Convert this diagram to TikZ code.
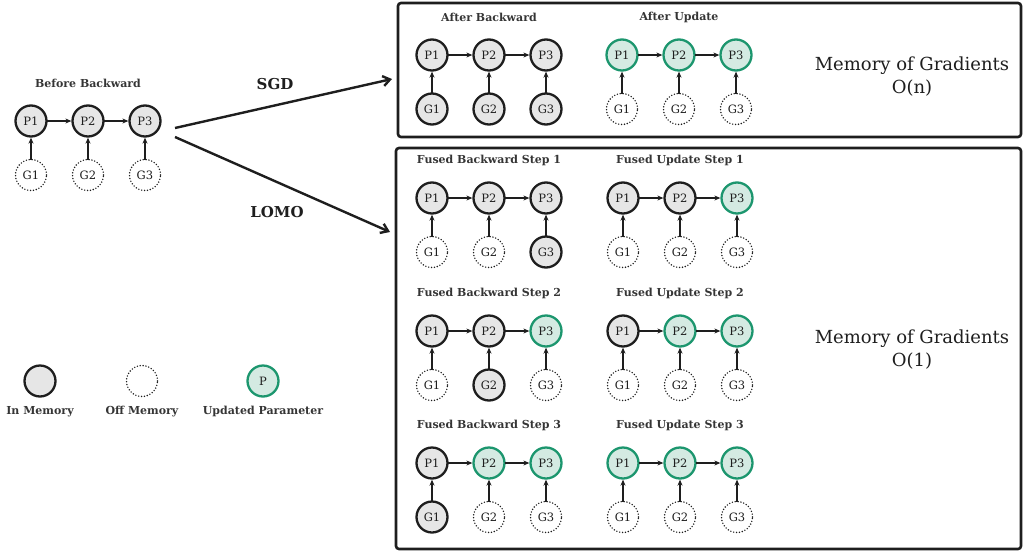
\documentclass[tikz,border=0pt]{standalone}
\usepackage{fontspec}
\setmainfont{DejaVu Serif}
\usepackage{xcolor}
\usepackage{tikz}
\usetikzlibrary{positioning,arrows.meta}
\definecolor{memfill}{RGB}{230,230,230}
\definecolor{updline}{RGB}{28,150,110}
\definecolor{updfill}{RGB}{212,234,226}
\definecolor{ink}{RGB}{30,30,30}
% one chain of parameters with their gradients below
% #1 prefix, #2 position of P1, #3 title, #4-#6 styles of P1-P3, #7-#9 styles of G1-G3
\newcommand{\chain}[9]{%
	\begin{scope}[on grid]
		\node[#4] (#1p1) at #2 {P1};
		\node[#5, right=57pt of #1p1] (#1p2) {P2};
		\node[#6, right=57pt of #1p2] (#1p3) {P3};
		\node[#7, below=54pt of #1p1] (#1g1) {G1};
		\node[#8, below=54pt of #1p2] (#1g2) {G2};
		\node[#9, below=54pt of #1p3] (#1g3) {G3};
		\node[steptitle, above=38pt of #1p2] (#1t) {#3};
	\end{scope}
	\draw[link] (#1p1) -- (#1p2);
	\draw[link] (#1p2) -- (#1p3);
	\draw[link] (#1g1) -- (#1p1);
	\draw[link] (#1g2) -- (#1p2);
	\draw[link] (#1g3) -- (#1p3);}

\begin{document}
\begin{tikzpicture}[x=1pt, y=-1pt,
		param/.style={circle, minimum size=31pt, inner sep=0pt, font=\fontsize{11.5}{12}\selectfont, text=ink},
		inmem/.style={param, draw=ink, line width=2.3pt, fill=memfill},
		offmem/.style={param, draw=ink, line width=1.6pt, line cap=round, dash pattern=on 0pt off 2.9pt, fill=white},
		upd/.style={param, draw=updline, line width=2.3pt, fill=updfill},
		link/.style={-{Stealth[length=6pt, width=5pt]}, line width=1.4pt, ink, shorten <=-1pt},
		steptitle/.style={font=\bfseries\fontsize{11}{12}\selectfont, text=ink!90},
		legtext/.style={font=\bfseries\fontsize{11}{12}\selectfont, text=ink!90},
		panelbox/.style={draw=ink, line width=2.6pt, rounded corners=3pt, inner sep=0pt},
		flow/.style={-{Straight Barb[length=7pt, width=10pt]}, line width=2.4pt, ink},
		flowlabel/.style={font=\bfseries\fontsize{15}{17}\selectfont, text=ink},
		memnote/.style={font=\fontsize{18}{23}\selectfont, align=center, text=ink}]
	\useasboundingbox (0,0) rectangle (1026,552);

	% starting state
	\chain{bf}{(31,121)}{Before Backward}{inmem}{inmem}{inmem}{offmem}{offmem}{offmem}

	% SGD
	\node[panelbox, minimum width=623, minimum height=134] (sgdbox) at (709.5,70) {};
	\chain{ab}{(432,55)}{After Backward}{inmem}{inmem}{inmem}{inmem}{inmem}{inmem}
	\chain{au}{(622,55)}{After Update}{upd}{upd}{upd}{offmem}{offmem}{offmem}
	\node[memnote] (sgdmem) at (912,77) {Memory of Gradients\\O(n)};

	% LOMO
	\node[panelbox, minimum width=625, minimum height=401] (lomobox) at (708.5,348.5) {};
	\chain{fba}{(432,198)}{Fused Backward Step 1}{inmem}{inmem}{inmem}{offmem}{offmem}{inmem}
	\chain{fua}{(623,198)}{Fused Update Step 1}{inmem}{inmem}{upd}{offmem}{offmem}{offmem}
	\chain{fbb}{(432,331)}{Fused Backward Step 2}{inmem}{inmem}{upd}{offmem}{inmem}{offmem}
	\chain{fub}{(623,331)}{Fused Update Step 2}{inmem}{upd}{upd}{offmem}{offmem}{offmem}
	\chain{fbc}{(432,463)}{Fused Backward Step 3}{inmem}{upd}{upd}{inmem}{offmem}{offmem}
	\chain{fuc}{(623,463)}{Fused Update Step 3}{upd}{upd}{upd}{offmem}{offmem}{offmem}
	\node[memnote] (lomomem) at (912,350) {Memory of Gradients\\O(1)};

	% the two ways forward
	\coordinate (sgdout) at (175,128);
	\coordinate (lomoout) at (175,137);
	\coordinate (sgdin) at (392,79);
	\coordinate (lomoin) at (390,232);
	\draw[flow] (sgdout) -- (sgdin);
	\draw[flow] (lomoout) -- (lomoin);
	\node[flowlabel] (sgdlab) at (275,84) {SGD};
	\node[flowlabel] (lomolab) at (277,212) {LOMO};

	% legend
	\node[inmem] (kin) at (40,381) {};
	\node[offmem] (koff) at (142,381) {};
	\node[upd] (kupd) at (263,381) {P};
	\node[legtext, below=5pt of kin] (kinlab) {In Memory};
	\node[legtext, below=5pt of koff] (kofflab) {Off Memory};
	\node[legtext, below=5pt of kupd] (kupdlab) {Updated Parameter};
\end{tikzpicture}
\end{document}
